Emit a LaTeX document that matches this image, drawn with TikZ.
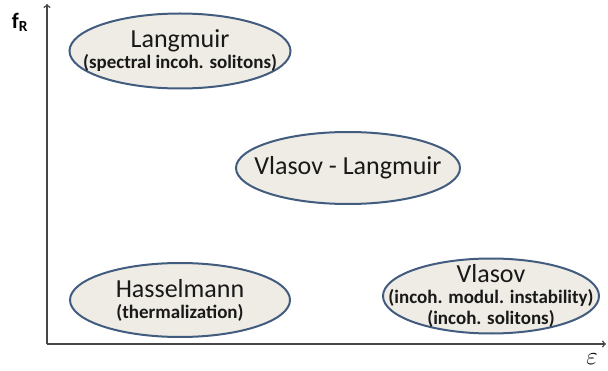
\documentclass[tikz,border=0pt]{standalone}
\usepackage{fontspec}
\setmainfont{Carlito}
\usetikzlibrary{shapes.geometric}
\definecolor{ovalfill}{RGB}{238,236,228}
\definecolor{ovaldraw}{RGB}{66,92,128}
\definecolor{axisgray}{RGB}{70,70,70}
\newcommand{\subtxt}[1]{{\fontsize{19}{17}\bfseries #1}}
\begin{document}
\begin{tikzpicture}[x=1pt,y=1pt]
  \tikzstyle{oval}=[ellipse,draw=ovaldraw,line width=2pt,fill=ovalfill,inner sep=0pt]
  \tikzstyle{ovaltext}=[align=center,text=black!90,font=\fontsize{26}{21}\selectfont]
  \tikzstyle{axis}=[draw=axisgray,line width=1.5pt,->]
  \useasboundingbox (0,0) rectangle (608,370);
  \coordinate (o) at (47,26);
  \coordinate (ytip) at (47,366);
  \coordinate (xtip) at (606,26);
  \draw[axis] (o) -- (ytip);
  \draw[axis] (o) -- (xtip);
  \node (fr) at (20,348) {\fontsize{22}{22}\bfseries f\textsubscript{R}};
  \node[font=\fontsize{24}{24}\selectfont] (eps) at (592,11) {$\varepsilon$};
  % the four regimes
  \node[oval,minimum width=221,minimum height=75] (langmuir) at (180,319) {};
  \node[ovaltext] at (langmuir) {Langmuir\\\subtxt{(spectral incoh. solitons)}};
  \node[oval,minimum width=224,minimum height=72] (vlasovlangmuir) at (348,202) {};
  \node[ovaltext] at (vlasovlangmuir) {Vlasov - Langmuir};
  \node[oval,minimum width=220,minimum height=74] (hasselmann) at (180,70) {};
  \node[ovaltext] at (hasselmann) {Hasselmann\\\subtxt{(thermalization)}};
  \node[oval,minimum width=216,minimum height=75] (vlasov) at (491,74) {};
  \node[ovaltext] at (vlasov) {Vlasov\\\subtxt{(incoh. modul. instability)}\\\subtxt{(incoh. solitons)}};
\end{tikzpicture}
\end{document}
